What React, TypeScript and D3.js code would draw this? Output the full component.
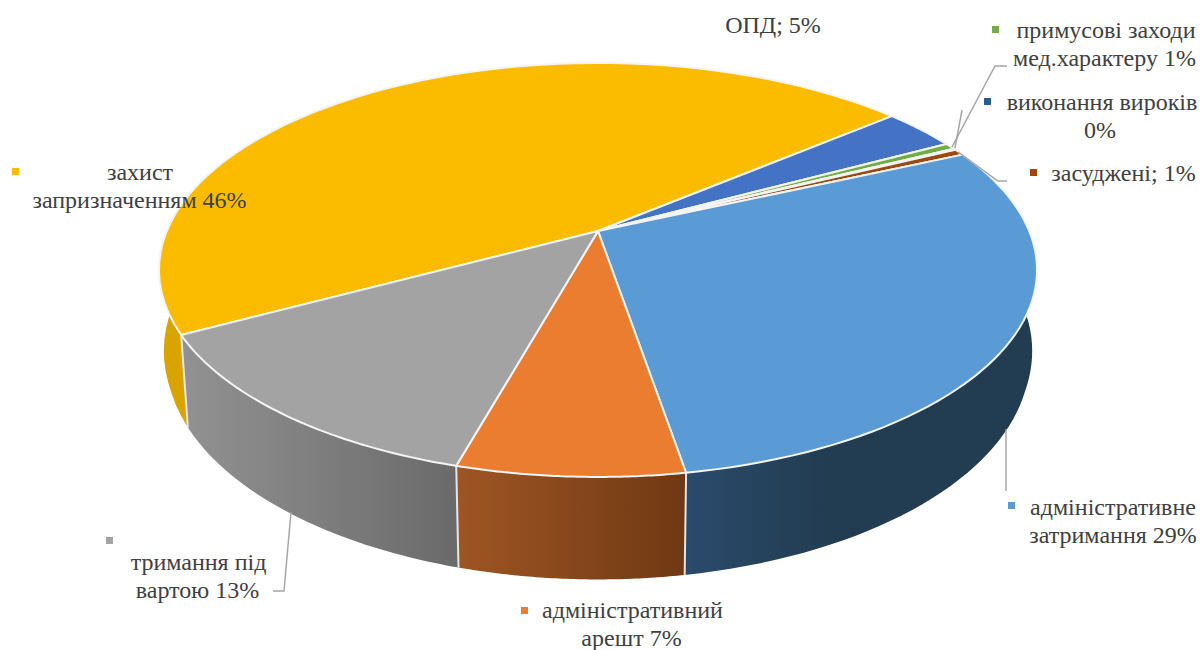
import React from "react";
import * as d3 from "d3";

const categories = ["захист запризначенням", "ОПД", "примусові заходи мед.характеру", "виконання вироків", "засуджені", "адміністративне затримання", "адміністративний арешт", "тримання під вартою"];
const values = [46.7, 3.3, 0.5, 0.1, 0.5, 29.1, 7.0, 12.8];
const topColors = ["#fbbc00", "#4472c4", "#70ad47", "#255e91", "#9e480e", "#5b9bd5", "#eb7d31", "#a3a3a3"];
const wallFrom = ["#d9a300", "#2f4f86", "#4a7530", "#1a3f62", "#6a3009", "#2b4a6c", "#9f5524", "#929292"];
const wallTo = ["#d9a300", "#2f4f86", "#4a7530", "#1a3f62", "#6a3009", "#223d52", "#6f3913", "#6a6a6a"];
const wallToAt = [1, 1, 1, 1, 1, 0.4, 1, 1];

const labels = [
  { lines: ["захист", "запризначенням 46%"], xs: [140, 139.5], ys: [180, 208], key: [12, 168], color: "#fbbc00" },
  { lines: ["ОПД; 5%"], xs: [773], ys: [33], key: null, color: "#4472c4" },
  { lines: ["примусові заходи", "мед.характеру 1%"], xs: [1106, 1104.5], ys: [38, 66], key: [992, 26], color: "#70ad47" },
  { lines: ["виконання вироків", "0%"], xs: [1102, 1100], ys: [110, 138], key: [984, 98], color: "#255e91" },
  { lines: ["засуджені; 1%"], xs: [1123.5], ys: [181], key: [1030, 169], color: "#9e480e" },
  { lines: ["адміністративне", "затримання 29%"], xs: [1113, 1113], ys: [515, 543], key: [1008, 502], color: "#5b9bd5" },
  { lines: ["адміністративний", "арешт 7%"], xs: [632.5, 631.5], ys: [618, 646], key: [521, 607], color: "#eb7d31" },
  { lines: ["тримання під", "вартою 13%"], xs: [198.5, 197.5], ys: [570, 598], key: [106, 537], color: "#a3a3a3" },
];

const leaders: [number, number][][] = [
  [[952, 147], [995, 66], [1007, 66]],
  [[955, 148], [962, 110]],
  [[958, 152], [998, 181], [1007, 181]],
  [[1006, 429], [1006, 491]],
  [[291, 512], [284, 591], [273, 591]],
];

// perspective projection of the disc
const cx = 598, cy = 231, rx = 431.2, ry = 199.7, p = 0.188;
const ellipseCy = 270;
const bottomSx = 0.984, bottomSy = 1.07, bottomCy = 358;

const project = (a: number): [number, number] => {
  const u = Math.sin(a), v = -Math.cos(a), w = 1 - p * v;
  return [cx + (rx * u) / w, cy + (ry * v) / w];
};
const lower = ([x, y]: [number, number]): [number, number] => [
  cx + (bottomSx + 0.00015 * Math.max(0, 300 - y)) * (x - cx),
  bottomCy + bottomSy * (y - ellipseCy),
];

const startAngle = (241.7 * Math.PI) / 180;
const arcs = d3.pie<number>().sort(null).startAngle(startAngle).endAngle(startAngle + 2 * Math.PI)(values);
const line = d3.line();

const rim = (a0: number, a1: number) => d3.range(0, 61).map((i) => project(a0 + ((a1 - a0) * i) / 60));

export default function App() {
  return (
    <svg width={1202} height={650} style={{ position: "absolute", left: 0, top: 0 }} fontFamily="'Liberation Serif', serif">
      <defs>
        {categories.map((_, i) => (
          <linearGradient key={i} id={`wall${i}`} x1="0" x2="1" y1="0" y2="0">
            <stop offset="0" stopColor={wallFrom[i]} />
            <stop offset={wallToAt[i]} stopColor={wallTo[i]} />
          </linearGradient>
        ))}
      </defs>
      {arcs.map((d, i) => {
        const r = rim(d.startAngle, d.endAngle);
        return <path key={i} d={line([...r, ...r.slice().reverse().map(lower)]) + "Z"} fill={`url(#wall${i})`} />;
      })}
      {arcs.map((d, i) => {
        const t = project(d.startAngle);
        return <path key={i} d={line([t, lower(t)]) ?? ""} stroke="#e6e6e6" strokeWidth={2} fill="none" />;
      })}
      {arcs.map((d, i) => {
        const r = rim(d.startAngle, d.endAngle);
        return <path key={i} d={line([[cx, cy], ...r]) + "Z"} fill={topColors[i]} stroke="#f4f4f4" strokeWidth={2} strokeLinejoin="round" />;
      })}
      {leaders.map((pts, i) => (
        <path key={i} d={line(pts) ?? ""} fill="none" stroke="#a6a6a6" strokeWidth={1.5} />
      ))}
      {labels.map((l, i) => (
        <g key={i}>
          {l.key && <rect x={l.key[0]} y={l.key[1]} width={7} height={7} fill={l.color} />}
          {l.lines.map((s, j) => (
            <text key={j} x={l.xs[j]} y={l.ys[j]} textAnchor="middle" fontSize={24} fill="#404040">{s}</text>
          ))}
        </g>
      ))}
    </svg>
  );
}
